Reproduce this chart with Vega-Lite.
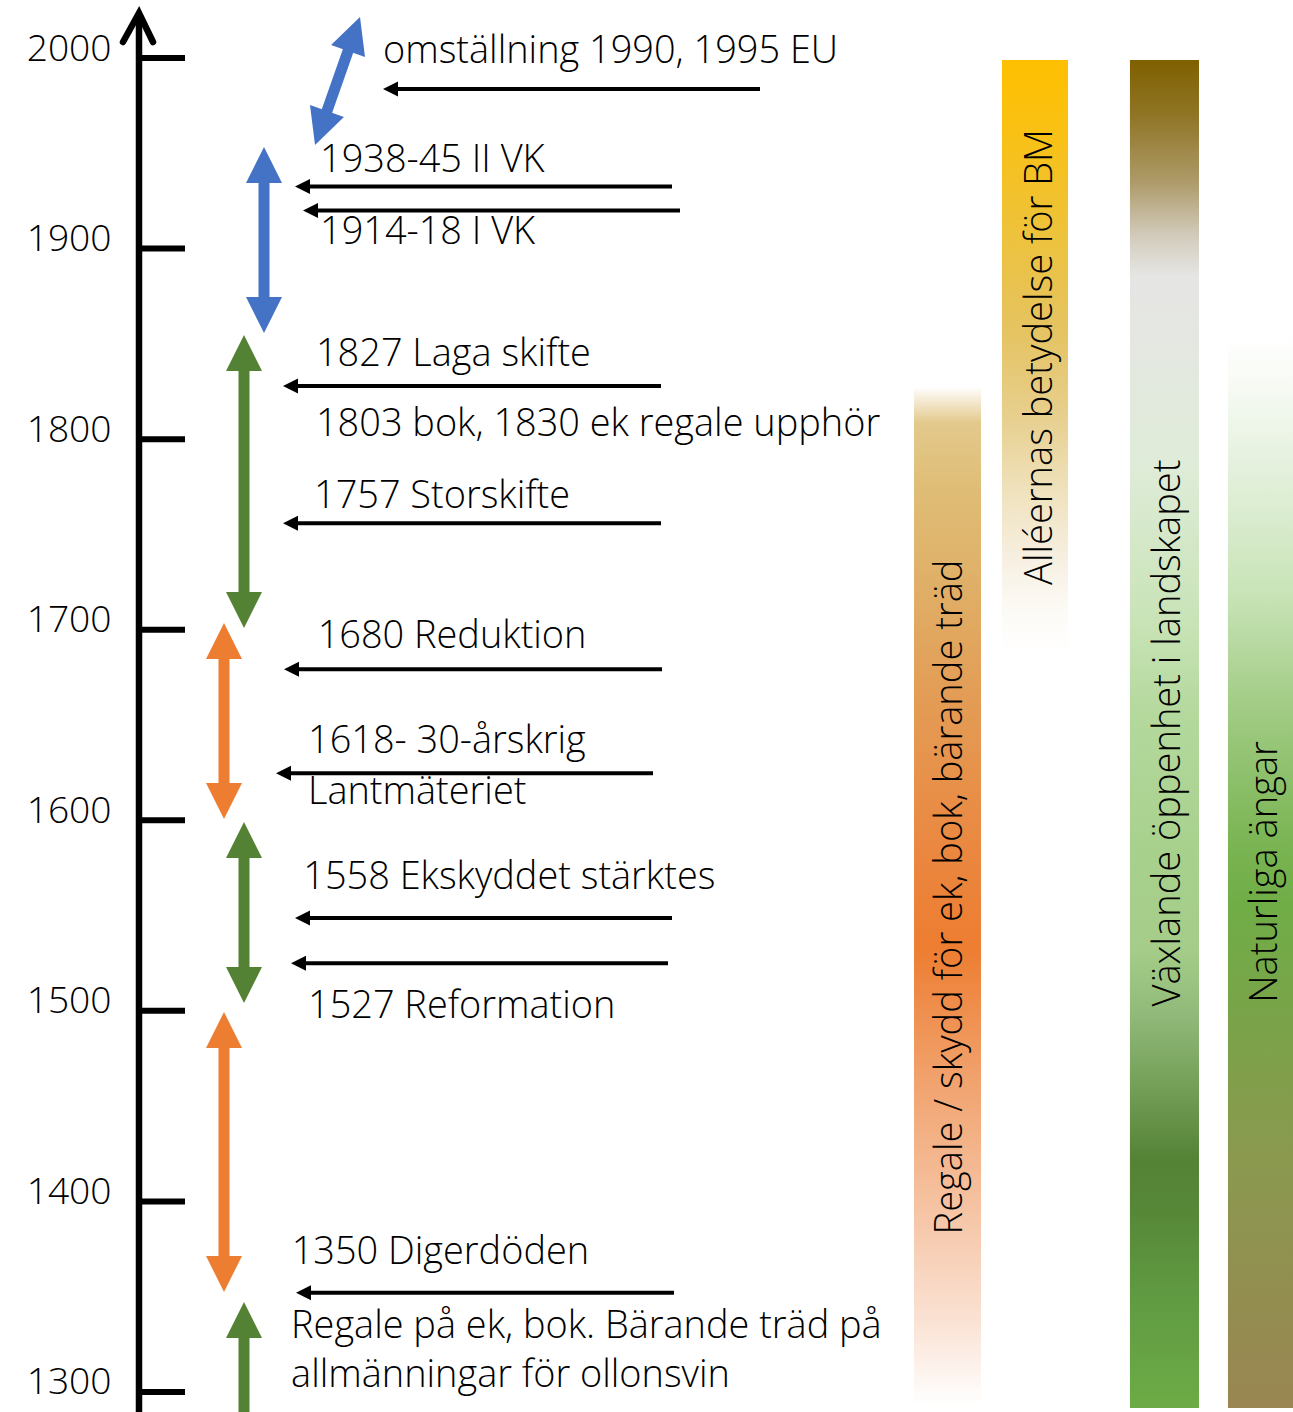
{
  "$schema": "https://vega.github.io/schema/vega-lite/v6.json",
  "width": 1293,
  "height": 1412,
  "autosize": {"type": "fit", "contains": "padding"},
  "padding": 0,
  "background": "white",
  "config": {"view": {"stroke": null}, "axis": {"disable": true}, "legend": {"disable": true}},
  "datasets": {
    "staplar": [
      {"namn": "regale", "x": 70.69, "x2": 75.87, "topp": 1827.36, "botten": 1293.17},
      {"namn": "alleer", "x": 77.49, "x2": 82.60, "topp": 1998.95, "botten": 1686.73},
      {"namn": "oppenhet", "x": 87.39, "x2": 92.73, "topp": 1998.95, "botten": 1291.60},
      {"namn": "angar", "x": 94.97, "x2": 100, "topp": 1854.65, "botten": 1291.60}
    ],
    "stapeltexter": [
      {"etikett": "Regale / skydd för ek, bok, bärande träd", "x": 74.40, "år": 1559.74},
      {"etikett": "Alléernas betydelse för BM", "x": 81.36, "år": 1843.10},
      {"etikett": "Växlande öppenhet i landskapet", "x": 91.26, "år": 1645.8},
      {"etikett": "Naturliga ängar", "x": 98.76, "år": 1572.86}
    ],
    "axelpil": [
      {"x": 9.513, "år": 2008.40, "ordning": 1},
      {"x": 10.750, "år": 2023.61, "ordning": 2},
      {"x": 11.833, "år": 2008.40, "ordning": 3}
    ],
    "sekel": [
      {"år": 2000}, {"år": 1900}, {"år": 1800}, {"år": 1700},
      {"år": 1600}, {"år": 1500}, {"år": 1400}, {"år": 1300}
    ],
    "perioder": [
      {"kind": "blå", "x": 20.418, "topp": 1953.30, "botten": 1855.70, "spetsar": 2},
      {"kind": "grön", "x": 18.871, "topp": 1854.65, "botten": 1700.90, "spetsar": 2},
      {"kind": "orange", "x": 17.324, "topp": 1703.52, "botten": 1600.67, "spetsar": 2},
      {"kind": "grön", "x": 18.871, "topp": 1599.10, "botten": 1504.12, "spetsar": 2},
      {"kind": "orange", "x": 17.324, "topp": 1499.40, "botten": 1352.47, "spetsar": 2},
      {"kind": "grön", "x": 18.871, "topp": 1347.22, "botten": 1280.05, "spetsar": 1}
    ],
    "diagonal": [
      {"kind": "blå", "x": 27.842, "topp": 2021.51, "x2": 24.362, "botten": 1954.35}
    ],
    "handelsepilar": [
      {"spets": 29.621, "slut": 58.778, "år": 1983.73},
      {"spets": 22.815, "slut": 51.972, "år": 1932.57},
      {"spets": 23.434, "slut": 52.591, "år": 1920.0},
      {"spets": 21.887, "slut": 51.121, "år": 1827.88},
      {"spets": 21.887, "slut": 51.121, "år": 1755.84},
      {"spets": 21.964, "slut": 51.199, "år": 1679.23},
      {"spets": 21.346, "slut": 50.503, "år": 1624.65},
      {"spets": 22.815, "slut": 51.972, "år": 1548.72},
      {"spets": 22.506, "slut": 51.663, "år": 1524.95},
      {"spets": 22.893, "slut": 52.127, "år": 1352.1}
    ],
    "handelser": [
      {"etikett": "omställning 1990, 1995 EU", "x": 29.621, "år": 1997.22},
      {"etikett": "1938-45 II VK", "x": 24.749, "år": 1940.34},
      {"etikett": "1914-18 I VK", "x": 24.749, "år": 1902.24},
      {"etikett": "1827 Laga skifte", "x": 24.439, "år": 1838.38},
      {"etikett": "1803 bok, 1830 ek regale upphör", "x": 24.439, "år": 1801.65},
      {"etikett": "1757 Storskifte", "x": 24.285, "år": 1763.71},
      {"etikett": "1680 Reduktion", "x": 24.57, "år": 1690.24},
      {"etikett": "1618- 30-årskrig", "x": 23.821, "år": 1635.15},
      {"etikett": "Lantmäteriet", "x": 23.821, "år": 1608.54},
      {"etikett": "1558 Ekskyddet stärktes", "x": 23.457, "år": 1563.78},
      {"etikett": "1527 Reformation", "x": 23.821, "år": 1496.09},
      {"etikett": "1350 Digerdöden", "x": 22.56, "år": 1367.0},
      {"etikett": "Regale på ek, bok. Bärande träd på", "x": 22.51, "år": 1328.17},
      {"etikett": "allmänningar för ollonsvin", "x": 22.51, "år": 1302.78}
    ]
  },
  "layer": [
    {
      "data": {"name": "staplar"},
      "transform": [{"filter": "datum.namn == 'regale'"}],
      "mark": {"type": "rect", "fill": {"gradient": "linear", "x1": 0, "y1": 0, "x2": 0, "y2": 1, "stops": [
        {"offset": 0, "color": "#ffffff"},
        {"offset": 0.035, "color": "#e3c98c"},
        {"offset": 0.1, "color": "#dfbd76"},
        {"offset": 0.2, "color": "#e0ae66"},
        {"offset": 0.3, "color": "#e39d56"},
        {"offset": 0.45, "color": "#ea8841"},
        {"offset": 0.55, "color": "#ed7d31"},
        {"offset": 0.68, "color": "#f1a26d"},
        {"offset": 0.82, "color": "#f6c7a9"},
        {"offset": 0.92, "color": "#fae3d5"},
        {"offset": 1, "color": "#ffffff"}]}},
      "encoding": {
        "x": {"field": "x", "type": "quantitative", "scale": {"domain": [0, 100], "nice": false, "zero": false}, "axis": null},
        "x2": {"field": "x2"},
        "y": {"field": "topp", "type": "quantitative", "scale": {"domain": [1289.5, 2030.44], "nice": false, "zero": false}, "axis": null},
        "y2": {"field": "botten"}
      }
    },
    {
      "data": {"name": "staplar"},
      "transform": [{"filter": "datum.namn == 'alleer'"}],
      "mark": {"type": "rect", "fill": {"gradient": "linear", "x1": 0, "y1": 0, "x2": 0, "y2": 1, "stops": [
        {"offset": 0, "color": "#ffc000"},
        {"offset": 0.12, "color": "#f9c114"},
        {"offset": 0.25, "color": "#f0c232"},
        {"offset": 0.45, "color": "#e5c360"},
        {"offset": 0.6, "color": "#e7cf8e"},
        {"offset": 0.72, "color": "#efe1bb"},
        {"offset": 0.84, "color": "#f7f0e2"},
        {"offset": 0.93, "color": "#fdfbf7"},
        {"offset": 1, "color": "#ffffff"}]}},
      "encoding": {
        "x": {"field": "x", "type": "quantitative", "scale": {"domain": [0, 100], "nice": false, "zero": false}, "axis": null},
        "x2": {"field": "x2"},
        "y": {"field": "topp", "type": "quantitative", "scale": {"domain": [1289.5, 2030.44], "nice": false, "zero": false}, "axis": null},
        "y2": {"field": "botten"}
      }
    },
    {
      "data": {"name": "staplar"},
      "transform": [{"filter": "datum.namn == 'oppenhet'"}],
      "mark": {"type": "rect", "fill": {"gradient": "linear", "x1": 0, "y1": 0, "x2": 0, "y2": 1, "stops": [
        {"offset": 0, "color": "#7f6000"},
        {"offset": 0.04, "color": "#8f7424"},
        {"offset": 0.09, "color": "#ad9a68"},
        {"offset": 0.13, "color": "#d2cbbb"},
        {"offset": 0.16, "color": "#e5e5e3"},
        {"offset": 0.21, "color": "#e4e7e1"},
        {"offset": 0.3, "color": "#dfecd8"},
        {"offset": 0.42, "color": "#c8e3b6"},
        {"offset": 0.48, "color": "#b5d99e"},
        {"offset": 0.58, "color": "#a9d18e"},
        {"offset": 0.66, "color": "#a5cd89"},
        {"offset": 0.71, "color": "#90b878"},
        {"offset": 0.76, "color": "#74a058"},
        {"offset": 0.815, "color": "#558336"},
        {"offset": 0.85, "color": "#568637"},
        {"offset": 0.92, "color": "#609b42"},
        {"offset": 1, "color": "#6dab46"}]}},
      "encoding": {
        "x": {"field": "x", "type": "quantitative", "scale": {"domain": [0, 100], "nice": false, "zero": false}, "axis": null},
        "x2": {"field": "x2"},
        "y": {"field": "topp", "type": "quantitative", "scale": {"domain": [1289.5, 2030.44], "nice": false, "zero": false}, "axis": null},
        "y2": {"field": "botten"}
      }
    },
    {
      "data": {"name": "staplar"},
      "transform": [{"filter": "datum.namn == 'angar'"}],
      "mark": {"type": "rect", "fill": {"gradient": "linear", "x1": 0, "y1": 0, "x2": 0, "y2": 1, "stops": [
        {"offset": 0, "color": "#ffffff"},
        {"offset": 0.05, "color": "#f6faf3"},
        {"offset": 0.12, "color": "#e5f1de"},
        {"offset": 0.24, "color": "#c9e4b8"},
        {"offset": 0.34, "color": "#a4cd88"},
        {"offset": 0.47, "color": "#7bb554"},
        {"offset": 0.53, "color": "#70ad47"},
        {"offset": 0.64, "color": "#7aa349"},
        {"offset": 0.76, "color": "#8a9a4f"},
        {"offset": 0.89, "color": "#928e50"},
        {"offset": 1, "color": "#9a8652"}]}},
      "encoding": {
        "x": {"field": "x", "type": "quantitative", "scale": {"domain": [0, 100], "nice": false, "zero": false}, "axis": null},
        "x2": {"field": "x2"},
        "y": {"field": "topp", "type": "quantitative", "scale": {"domain": [1289.5, 2030.44], "nice": false, "zero": false}, "axis": null},
        "y2": {"field": "botten"}
      }
    },
    {
      "data": {"name": "stapeltexter"},
      "mark": {"type": "text", "angle": 270, "align": "center", "baseline": "alphabetic", "font": "Open Sans", "fontWeight": 300, "fontSize": 38, "color": "#000000"},
      "encoding": {
        "x": {"field": "x", "type": "quantitative", "scale": {"domain": [0, 100], "nice": false, "zero": false}, "axis": null},
        "y": {"field": "år", "type": "quantitative", "scale": {"domain": [1289.5, 2030.44], "nice": false, "zero": false}, "axis": null},
        "text": {"field": "etikett"}
      }
    },
    {
      "data": {"values": [{"från": 1289.5, "till": 2022.04}]},
      "mark": {"type": "rule", "color": "#000000", "strokeWidth": 6.5, "strokeCap": "butt", "clip": true},
      "encoding": {
        "x": {"datum": 10.75, "type": "quantitative", "scale": {"domain": [0, 100], "nice": false, "zero": false}, "axis": null},
        "y": {"field": "från", "type": "quantitative", "scale": {"domain": [1289.5, 2030.44], "nice": false, "zero": false}, "axis": null},
        "y2": {"field": "till"}
      }
    },
    {
      "data": {"name": "axelpil"},
      "mark": {"type": "line", "color": "#000000", "strokeWidth": 6.5, "strokeCap": "round", "strokeJoin": "miter"},
      "encoding": {
        "x": {"field": "x", "type": "quantitative", "scale": {"domain": [0, 100], "nice": false, "zero": false}, "axis": null},
        "y": {"field": "år", "type": "quantitative", "scale": {"domain": [1289.5, 2030.44], "nice": false, "zero": false}, "axis": null},
        "order": {"field": "ordning", "type": "quantitative"}
      }
    },
    {
      "data": {"name": "sekel"},
      "mark": {"type": "rule", "color": "#000000", "strokeWidth": 6, "strokeCap": "butt"},
      "encoding": {
        "x": {"datum": 10.75, "type": "quantitative", "scale": {"domain": [0, 100], "nice": false, "zero": false}, "axis": null},
        "x2": {"datum": 14.308},
        "y": {"field": "år", "type": "quantitative", "scale": {"domain": [1289.5, 2030.44], "nice": false, "zero": false}, "axis": null}
      }
    },
    {
      "data": {"name": "sekel"},
      "mark": {"type": "text", "align": "right", "baseline": "alphabetic", "dy": 2.5, "font": "Open Sans", "fontWeight": 300, "fontSize": 37.2, "color": "#000000"},
      "encoding": {
        "x": {"datum": 8.63, "type": "quantitative", "scale": {"domain": [0, 100], "nice": false, "zero": false}, "axis": null},
        "y": {"field": "år", "type": "quantitative", "scale": {"domain": [1289.5, 2030.44], "nice": false, "zero": false}, "axis": null},
        "text": {"field": "år", "type": "quantitative", "format": "d"}
      }
    },
    {
      "data": {"name": "perioder"},
      "mark": {"type": "rule", "strokeWidth": 11, "strokeCap": "butt", "yOffset": 18, "y2Offset": -18, "clip": true},
      "encoding": {
        "x": {"field": "x", "type": "quantitative", "scale": {"domain": [0, 100], "nice": false, "zero": false}, "axis": null},
        "y": {"field": "topp", "type": "quantitative", "scale": {"domain": [1289.5, 2030.44], "nice": false, "zero": false}, "axis": null},
        "y2": {"field": "botten"},
        "color": {"field": "kind", "type": "nominal", "scale": {"domain": ["blå", "grön", "orange"], "range": ["#4472c4", "#548235", "#ed7d31"]}, "legend": null}
      }
    },
    {
      "data": {"name": "perioder"},
      "transform": [
        {"fold": ["topp", "botten"], "as": ["ände", "år"]},
        {"filter": "datum.ände == 'topp' || datum.spetsar == 2"}
      ],
      "mark": {"type": "point", "filled": true, "opacity": 1, "size": 1296, "strokeWidth": 0},
      "encoding": {
        "x": {"field": "x", "type": "quantitative", "scale": {"domain": [0, 100], "nice": false, "zero": false}, "axis": null},
        "y": {"field": "år", "type": "quantitative", "scale": {"domain": [1289.5, 2030.44], "nice": false, "zero": false}, "axis": null},
        "shape": {"field": "ände", "type": "nominal", "scale": {"domain": ["topp", "botten"], "range": ["M0,0L1,2L-1,2Z", "M0,0L1,-2L-1,-2Z"]}, "legend": null},
        "color": {"field": "kind", "type": "nominal", "scale": {"domain": ["blå", "grön", "orange"], "range": ["#4472c4", "#548235", "#ed7d31"]}, "legend": null}
      }
    },
    {
      "data": {"name": "diagonal"},
      "mark": {"type": "rule", "strokeWidth": 11, "strokeCap": "butt", "xOffset": -6, "yOffset": 17, "x2Offset": 6, "y2Offset": -17},
      "encoding": {
        "x": {"field": "x", "type": "quantitative", "scale": {"domain": [0, 100], "nice": false, "zero": false}, "axis": null},
        "x2": {"field": "x2"},
        "y": {"field": "topp", "type": "quantitative", "scale": {"domain": [1289.5, 2030.44], "nice": false, "zero": false}, "axis": null},
        "y2": {"field": "botten"},
        "color": {"field": "kind", "type": "nominal", "scale": {"domain": ["blå", "grön", "orange"], "range": ["#4472c4", "#548235", "#ed7d31"]}, "legend": null}
      }
    },
    {
      "data": {"name": "diagonal"},
      "mark": {"type": "point", "filled": true, "opacity": 1, "size": 1296, "strokeWidth": 0, "shape": "M0,0L1,2L-1,2Z", "angle": 19.4},
      "encoding": {
        "x": {"field": "x", "type": "quantitative", "scale": {"domain": [0, 100], "nice": false, "zero": false}, "axis": null},
        "y": {"field": "topp", "type": "quantitative", "scale": {"domain": [1289.5, 2030.44], "nice": false, "zero": false}, "axis": null},
        "color": {"field": "kind", "type": "nominal", "scale": {"domain": ["blå", "grön", "orange"], "range": ["#4472c4", "#548235", "#ed7d31"]}, "legend": null}
      }
    },
    {
      "data": {"name": "diagonal"},
      "mark": {"type": "point", "filled": true, "opacity": 1, "size": 1296, "strokeWidth": 0, "shape": "M0,0L1,-2L-1,-2Z", "angle": 19.4},
      "encoding": {
        "x": {"field": "x2", "type": "quantitative", "scale": {"domain": [0, 100], "nice": false, "zero": false}, "axis": null},
        "y": {"field": "botten", "type": "quantitative", "scale": {"domain": [1289.5, 2030.44], "nice": false, "zero": false}, "axis": null},
        "color": {"field": "kind", "type": "nominal", "scale": {"domain": ["blå", "grön", "orange"], "range": ["#4472c4", "#548235", "#ed7d31"]}, "legend": null}
      }
    },
    {
      "data": {"name": "handelsepilar"},
      "mark": {"type": "rule", "color": "#000000", "strokeWidth": 4, "strokeCap": "butt", "xOffset": 10},
      "encoding": {
        "x": {"field": "spets", "type": "quantitative", "scale": {"domain": [0, 100], "nice": false, "zero": false}, "axis": null},
        "x2": {"field": "slut"},
        "y": {"field": "år", "type": "quantitative", "scale": {"domain": [1289.5, 2030.44], "nice": false, "zero": false}, "axis": null}
      }
    },
    {
      "data": {"name": "handelsepilar"},
      "mark": {"type": "point", "filled": true, "opacity": 1, "color": "#000000", "size": 225, "strokeWidth": 0, "shape": "M0,0L2,-1L2,1Z"},
      "encoding": {
        "x": {"field": "spets", "type": "quantitative", "scale": {"domain": [0, 100], "nice": false, "zero": false}, "axis": null},
        "y": {"field": "år", "type": "quantitative", "scale": {"domain": [1289.5, 2030.44], "nice": false, "zero": false}, "axis": null}
      }
    },
    {
      "data": {"name": "handelser"},
      "mark": {"type": "text", "align": "left", "baseline": "alphabetic", "font": "Open Sans", "fontWeight": 300, "fontSize": 37.9, "color": "#000000"},
      "encoding": {
        "x": {"field": "x", "type": "quantitative", "scale": {"domain": [0, 100], "nice": false, "zero": false}, "axis": null},
        "y": {"field": "år", "type": "quantitative", "scale": {"domain": [1289.5, 2030.44], "nice": false, "zero": false}, "axis": null},
        "text": {"field": "etikett"}
      }
    }
  ]
}
